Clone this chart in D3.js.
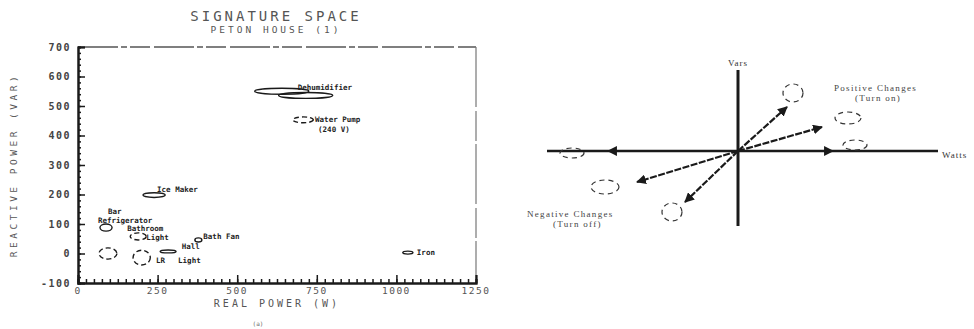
<!DOCTYPE html>
<html><head><meta charset="utf-8">
<script src="https://cdn.jsdelivr.net/npm/d3@7"></script>
<style>
html,body{margin:0;padding:0;background:#fff;}
svg text{fill:#333;}
</style></head>
<body><svg id="c" width="974" height="329"></svg>
<script>
// ---------- data: left panel (signature space) ----------
const xTicks = [0, 250, 500, 750, 1000, 1250];
const yTicks = [-100, 0, 100, 200, 300, 400, 500, 600, 700];
const clusterNames = ["Dehumidifier","Dehumidifier","Water Pump","Ice Maker","Bar Refrigerator","Bathroom Light","Bath Fan","","Hall","LR Light","Iron"];
const clusterWatts = [640, 715, 707, 239, 88, 189, 378, 94, 200, 283, 1036];
const clusterVars  = [550, 536, 453, 198, 88, 58, 46, 0, -14, 7, 3];
const spreadWatts  = [85, 85, 32, 35, 19, 25, 11, 28, 27, 25, 16];
const spreadVars   = [10, 10, 10, 8, 12, 12, 7, 19, 25, 5, 5];
const clusterDashed = [false,false,true,false,false,true,false,true,true,false,false];
// ---------- data: right panel (vector changes) ----------
const vecLabels = ["on-1","on-2","on-3","off-1","off-2","off-3"];
const vecWatts  = [49, 84, 95, -130, -101, -53];
const vecVars   = [44, 24, 0, 0, -31, -51];
const vecClusterWatts = [55, 110, 117, -166, -133, -66];
const vecClusterVars  = [58, 33, 6, -2, -36, -61];

// ---------- layout ----------
const svg = d3.select("#c");
svg.append("rect").attr("width",974).attr("height",329).attr("fill","#fff");
const mono = "DejaVu Sans Mono, monospace";
const ink = "#1a1a1a";

const x = d3.scaleLinear().domain([0,1250]).range([78,476]);
const y = d3.scaleLinear().domain([-100,700]).range([283,47]);

// title
svg.append("text").attr("x",276).attr("y",21).attr("text-anchor","middle")
  .attr("font-family",mono).attr("font-size",14).attr("letter-spacing",3).style("fill","#555")
  .text("SIGNATURE SPACE");
svg.append("text").attr("x",276).attr("y",33).attr("text-anchor","middle")
  .attr("font-family",mono).attr("font-size",9.5).attr("letter-spacing",3).style("fill","#555")
  .text("PETON HOUSE  (1)");

// frame top & right (faint)
svg.append("line").attr("x1",x(0)).attr("x2",x(1250)).attr("y1",y(700)).attr("y2",y(700))
  .attr("stroke","#555").attr("stroke-width",1.6).attr("stroke-dasharray","40 3 6 3 20 4");
svg.append("line").attr("x1",x(1250)).attr("x2",x(1250)).attr("y1",y(700)).attr("y2",y(-100))
  .attr("stroke","#777").attr("stroke-width",1.2).attr("stroke-dasharray","60 4 30 3");

// left axis
const gL = svg.append("g").attr("transform",`translate(${x(0)},0)`);
gL.call(d3.axisRight(y).tickValues(d3.range(-100,701,20)).tickSize(3).tickFormat(""));
gL.call(g=>g.append("g").call(d3.axisRight(y).tickValues(yTicks).tickSize(7).tickFormat("")));
gL.selectAll(".domain").attr("stroke",ink).attr("stroke-width",2);
gL.selectAll(".tick line").attr("stroke",ink).attr("stroke-width",1.5);
svg.append("g").selectAll("text").data(yTicks).join("text")
  .attr("x",71).attr("y",d=>y(d)+3.5).attr("text-anchor","end")
  .attr("font-family",mono).attr("font-size",10).attr("font-weight","bold").attr("letter-spacing",1.5)
  .style("fill","#444").text(d=>d);

// bottom axis
const gB = svg.append("g").attr("transform",`translate(0,${y(-100)})`);
gB.call(d3.axisTop(x).tickValues(d3.range(0,1251,25)).tickSize(4).tickFormat(""));
gB.call(g=>g.append("g").call(d3.axisTop(x).tickValues(xTicks).tickSize(8).tickFormat("")));
gB.selectAll(".domain").attr("stroke",ink).attr("stroke-width",2);
gB.selectAll(".tick line").attr("stroke",ink).attr("stroke-width",1.5);
svg.append("g").selectAll("text").data(xTicks).join("text")
  .attr("x",d=>x(d)).attr("y",294).attr("text-anchor","middle")
  .attr("font-family",mono).attr("font-size",9.5).attr("letter-spacing",1.5).style("fill","#555")
  .text(d=>d);

// axis titles
svg.append("text").attr("x",277).attr("y",307).attr("text-anchor","middle")
  .attr("font-family",mono).attr("font-size",10).attr("letter-spacing",3).style("fill","#555")
  .text("REAL POWER  (W)");
svg.append("text").attr("transform","translate(17,165) rotate(-90)").attr("text-anchor","middle")
  .attr("font-family",mono).attr("font-size",9.5).attr("letter-spacing",3.5).style("fill","#555")
  .text("REACTIVE POWER  (VAR)");
svg.append("text").attr("x",258).attr("y",326).attr("text-anchor","middle")
  .attr("font-family",mono).attr("font-size",6).style("fill","#666").text("(a)");

// clusters
const clusters = clusterNames.map((n,i)=>({name:n,w:clusterWatts[i],v:clusterVars[i],sw:spreadWatts[i],sv:spreadVars[i],dashed:clusterDashed[i]}));
svg.append("g").selectAll("ellipse").data(clusters).join("ellipse")
  .attr("cx",d=>x(d.w)).attr("cy",d=>y(d.v))
  .attr("rx",d=>x(d.sw)-x(0)).attr("ry",d=>y(0)-y(d.sv))
  .attr("fill","none").attr("stroke",ink).attr("stroke-width",1.4)
  .attr("stroke-dasharray",d=>d.dashed?"5 3":null);

// label layout (pixel offsets from cluster centre), kept separate from data
const labelLayout = {
  "Dehumidifier":[{t:"Dehumidifier",dx:16,dy:-1}],
  "Water Pump":[{t:"Water Pump",dx:12,dy:2},{t:"(240 V)",dx:15,dy:12}],
  "Ice Maker":[{t:"Ice Maker",dx:3,dy:-3}],
  "Bar Refrigerator":[{t:"Bar",dx:2,dy:-14},{t:"Refrigerator",dx:-8,dy:-5}],
  "Bathroom Light":[{t:"Bathroom",dx:-11,dy:-5},{t:"Light",dx:8,dy:4}],
  "Bath Fan":[{t:"Bath Fan",dx:5,dy:-1}],
  "Hall":[{t:"Hall",dx:40,dy:-9}],
  "LR Light":[{t:"LR",dx:-12,dy:12},{t:"Light",dx:10,dy:12}],
  "Iron":[{t:"Iron",dx:9,dy:2}]
};
const labelRows = [];
const seen = new Set();
clusters.forEach(c=>{
  if(!c.name || seen.has(c.name)) return; seen.add(c.name);
  (labelLayout[c.name]||[]).forEach(l=>labelRows.push({t:l.t,x:x(c.w)+l.dx,y:y(c.v)+l.dy}));
});
svg.append("g").selectAll("text").data(labelRows).join("text")
  .attr("x",d=>d.x).attr("y",d=>d.y)
  .attr("font-family",mono).attr("font-size",7.5).attr("font-weight","bold").style("fill","#222")
  .text(d=>d.t);

// ---------- right panel ----------
const xr = d3.scaleLinear().domain([-191,200]).range([547,938]);
const yr = d3.scaleLinear().domain([-75,81]).range([226,70]);
const R = svg.append("g");
R.append("line").attr("x1",xr(-191)).attr("x2",xr(200)).attr("y1",yr(0)).attr("y2",yr(0))
  .attr("stroke",ink).attr("stroke-width",2.6);
R.append("line").attr("x1",xr(0)).attr("x2",xr(0)).attr("y1",yr(81)).attr("y2",yr(-75))
  .attr("stroke",ink).attr("stroke-width",3);
R.append("text").attr("x",xr(0)).attr("y",66).attr("text-anchor","middle")
  .attr("font-family","Liberation Serif, serif").attr("font-size",9).attr("letter-spacing",1).text("Vars");
R.append("text").attr("x",942).attr("y",158)
  .attr("font-family","Liberation Serif, serif").attr("font-size",9).attr("letter-spacing",1).text("Watts");

const defs = svg.append("defs");
defs.append("marker").attr("id","ah").attr("viewBox","0 0 10 10").attr("refX",9).attr("refY",5)
  .attr("markerWidth",4.5).attr("markerHeight",4.5).attr("orient","auto")
  .append("path").attr("d","M0,0 L10,5 L0,10 z").attr("fill",ink);

const vecs = vecLabels.map((n,i)=>({n,w:vecWatts[i],v:vecVars[i],cw:vecClusterWatts[i],cv:vecClusterVars[i]}));
R.selectAll("line.vec").data(vecs).join("line").attr("class","vec")
  .attr("x1",xr(0)).attr("y1",yr(0)).attr("x2",d=>xr(d.w)).attr("y2",d=>yr(d.v))
  .attr("stroke",ink).attr("stroke-width",2.2).attr("stroke-dasharray","7 1.5")
  .attr("marker-end","url(#ah)");
const cr = [[10,9],[13,6],[12,5],[12,5],[14,7],[10,9]];
R.selectAll("ellipse").data(vecs).join("ellipse")
  .attr("cx",d=>xr(d.cw)).attr("cy",d=>yr(d.cv))
  .attr("rx",(d,i)=>cr[i][0]).attr("ry",(d,i)=>cr[i][1])
  .attr("fill","none").attr("stroke","#333").attr("stroke-width",1.2).attr("stroke-dasharray","5 4");

const rText = [
  {t:"Positive Changes",x:834,y:91},{t:"(Turn on)",x:855,y:101},
  {t:"Negative Changes",x:527,y:217},{t:"(Turn off)",x:553,y:227}];
R.selectAll("text.lab").data(rText).join("text").attr("class","lab")
  .attr("x",d=>d.x).attr("y",d=>d.y)
  .attr("font-family","Liberation Serif, serif").attr("font-size",9).attr("letter-spacing",1.3).style("fill","#444")
  .text(d=>d.t);
</script></body></html>
